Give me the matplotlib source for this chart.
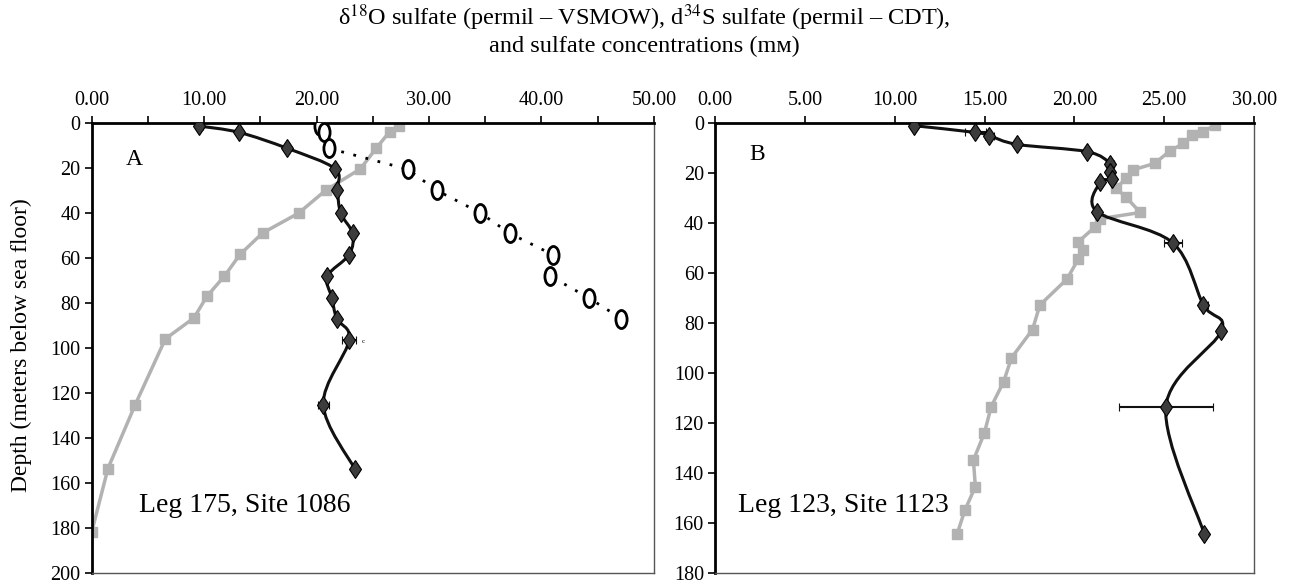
import numpy as np
import matplotlib
matplotlib.use("Agg")
import matplotlib.pyplot as plt
from matplotlib.path import Path
from matplotlib.patches import PathPatch
from matplotlib.ticker import MultipleLocator, FuncFormatter

plt.rcParams['font.family'] = ['Liberation Serif', 'DejaVu Sans']
plt.rcParams['mathtext.fontset'] = 'stix'

# ---- Panel A : Leg 175, Site 1086 ----
a_s34_val = [9.56, 13.1, 17.4, 21.65, 21.85, 22.15, 23.2, 22.9, 20.96, 21.36, 21.8, 22.9, 20.6, 23.4]
a_s34_dep = [1.5, 4.3, 11.4, 20.5, 30.1, 40.2, 49.2, 58.6, 68.2, 77.7, 87.1, 96.6, 125.2, 153.8]
a_s34_err = [0.3, 0, 0, 0, 0, 0, 0, 0, 0, 0, 0, 0.6, 0.5, 0]

a_so4_val = [27.3, 26.5, 25.3, 23.9, 20.8, 18.4, 15.2, 13.2, 11.8, 10.25, 9.1, 6.56, 3.86, 1.45, 0.0]
a_so4_dep = [1.3, 4.0, 11.4, 20.5, 30.1, 40.2, 49.0, 58.5, 68.2, 77.1, 86.7, 96.0, 125.4, 153.6, 181.9]

a_o18_val = [20.3, 20.7, 21.1, 28.1, 30.7, 34.5, 37.2, 41.0, 40.8, 44.2, 47.1]
a_o18_dep = [1.3, 4.3, 11.4, 20.7, 30.1, 39.9, 49.2, 58.6, 68.2, 77.8, 87.0]

# ---- Panel B : Leg 123, Site 1123 ----
b_s34_val = [11.08, 14.49, 15.26, 16.83, 20.72, 22.0, 21.97, 22.12, 21.43, 21.26, 25.47, 27.18, 28.18, 25.09, 27.24]
b_s34_dep = [1.2, 3.9, 5.2, 8.7, 11.6, 16.5, 19.7, 22.7, 23.9, 35.6, 48.0, 72.9, 83.2, 113.7, 164.6]
b_s34_err = [0, 0.6, 0.25, 0.2, 0, 0.2, 0, 0, 0, 0, 0.5, 0.25, 0, 2.6, 0]

b_so4_val = [27.85, 27.18, 26.55, 26.07, 25.34, 24.46, 23.25, 22.85, 22.33, 22.85, 23.67, 21.43, 21.16,
             20.22, 20.49, 20.22, 19.59, 18.08, 17.67, 16.5, 16.06, 15.37, 14.99, 14.38, 14.49, 13.9, 13.48]
b_so4_dep = [0.9, 3.6, 4.9, 8.3, 11.2, 16.3, 18.9, 22.3, 26.3, 29.6, 35.9, 38.4, 41.6,
             47.6, 50.9, 54.5, 62.5, 72.9, 82.7, 94.0, 103.6, 113.5, 124.1, 134.9, 145.5, 155.0, 164.3]

title1 = r'δ$^{18}$O sulfate (permil – VSMOW), d$^{34}$S sulfate (permil – CDT),'
title2 = 'and sulfate concentrations (mᴍ)'
ylab = 'Depth (meters below sea floor)'

GRAY = '#b2b2b2'
DARK = '#3c3c3c'

# tall open ellipse marker for the oxygen data
circ = Path.unit_circle()
oval = Path(circ.vertices * np.array([0.62, 1.0]), circ.codes)


def smooth_line(ax, xs, ys, **kw):
    # excel style smoothed line: catmull-rom turned into cubic bezier pieces
    p = np.column_stack([xs, ys])
    pts = np.vstack([p[0], p, p[-1]])
    verts = [p[0]]
    codes = [Path.MOVETO]
    for i in range(1, len(pts) - 2):
        c1 = pts[i] + (pts[i + 1] - pts[i - 1]) / 6.0
        c2 = pts[i + 1] - (pts[i + 2] - pts[i]) / 6.0
        verts += [c1, c2, pts[i + 1]]
        codes += [Path.CURVE4] * 3
    ax.add_patch(PathPatch(Path(verts, codes), fill=False, **kw))


def style_axes(ax, xmax, ymax, xstep, xlab_step):
    ax.set_xlim(0, xmax)
    ax.set_ylim(ymax, 0)
    ax.xaxis.tick_top()
    ax.xaxis.set_major_locator(MultipleLocator(xstep))
    ax.xaxis.set_major_formatter(FuncFormatter(
        lambda v, p: '%.2f' % v if abs(v / xlab_step - round(v / xlab_step)) < 1e-6 else ''))
    ax.yaxis.set_major_locator(MultipleLocator(20))
    ax.tick_params(axis='x', direction='out', length=5, width=1.2, labelsize=14.5, pad=4)
    ax.tick_params(axis='y', direction='out', length=5, width=1.2, labelsize=14.5, pad=3)
    for s in ['top', 'left']:
        ax.spines[s].set_linewidth(2)
        ax.spines[s].set_color('black')
    for s in ['right', 'bottom']:
        ax.spines[s].set_linewidth(1)
        ax.spines[s].set_color('#555555')


fig = plt.figure(figsize=(12.89, 5.8), dpi=100)
axA = fig.add_axes([0.0711, 0.0121, 0.4362, 0.7764])
axB = fig.add_axes([0.5547, 0.0121, 0.4182, 0.7764])

# panel A
axA.plot(a_so4_val, a_so4_dep, color=GRAY, lw=2.5, marker='s', ms=7.5, zorder=2)
smooth_line(axA, a_s34_val, a_s34_dep, color='#111111', lw=2.2, zorder=3)
axA.errorbar(a_s34_val, a_s34_dep, xerr=a_s34_err, fmt='d', color=DARK, mec='black', mew=0.8,
             ms=9.5, ecolor='#111111', elinewidth=1.5, capsize=3, zorder=4)
axA.plot(a_o18_val, a_o18_dep, color='black', lw=2, linestyle=(0, (1, 3.5)),
         marker=oval, ms=13, mfc='white', mec='black', mew=2, zorder=5)
axA.text(3.0, 16.2, 'A', fontsize=17, va='center', ha='left')
axA.text(4.2, 170, 'Leg 175, Site 1086', fontsize=20, va='center', ha='left')
axA.text(24.0, 97, 'c', fontsize=5, va='center', ha='left')
style_axes(axA, 50, 200, 5, 10)

# panel B
axB.plot(b_so4_val, b_so4_dep, color=GRAY, lw=2.5, marker='s', ms=7.5, zorder=2)
smooth_line(axB, b_s34_val, b_s34_dep, color='#111111', lw=2.2, zorder=3)
axB.errorbar(b_s34_val, b_s34_dep, xerr=b_s34_err, fmt='d', color=DARK, mec='black', mew=0.8,
             ms=9.5, ecolor='#111111', elinewidth=1.5, capsize=3, zorder=4)
axB.text(1.9, 12.9, 'B', fontsize=17, va='center', ha='left')
axB.text(1.3, 153, 'Leg 123, Site 1123', fontsize=20, va='center', ha='left')
style_axes(axB, 30, 180, 5, 5)

fig.text(0.5, 1 - 18 / 580, title1, fontsize=17.5, ha='center', va='center')
fig.text(0.5, 1 - 46 / 580, title2, fontsize=17.5, ha='center', va='center')
fig.text(21 / 1289, 1 - 345 / 580, ylab, fontsize=17, rotation=90, ha='center', va='center')

fig.savefig('out.png', dpi=100)
